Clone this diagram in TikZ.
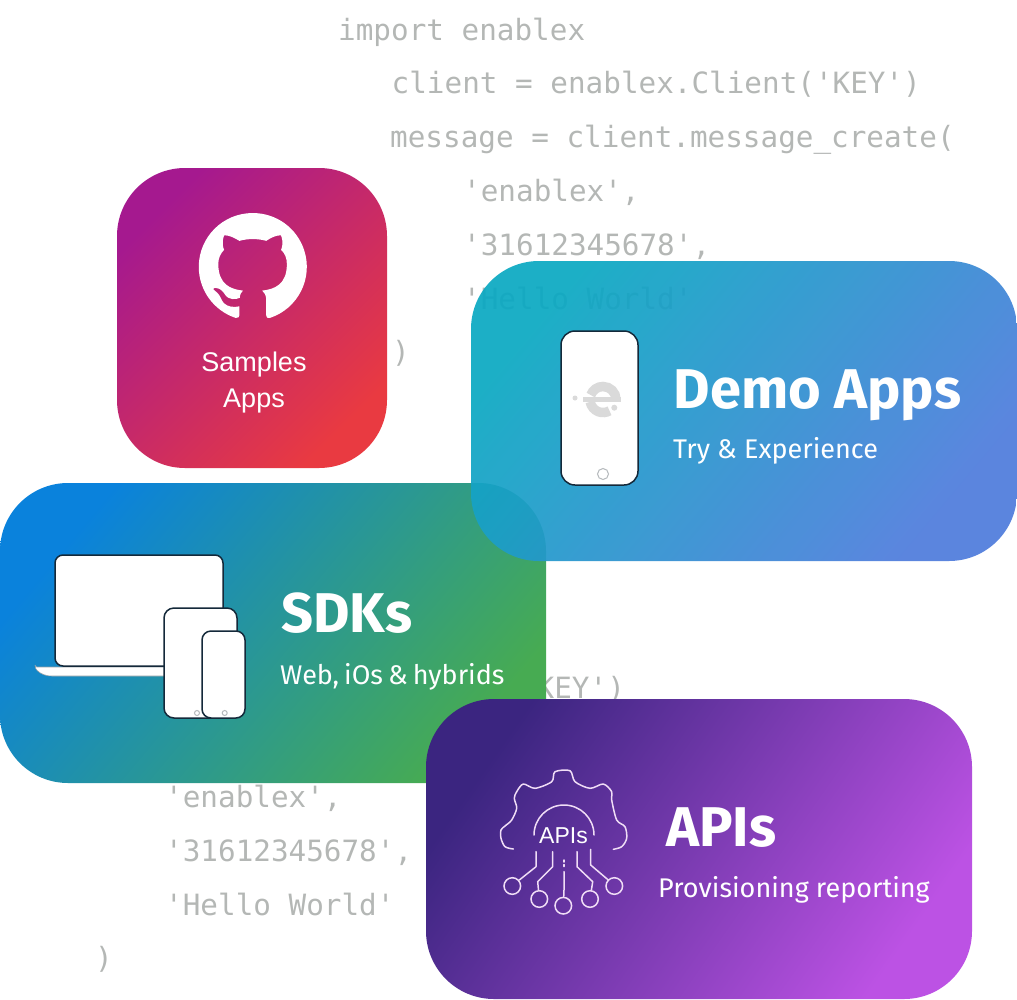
\documentclass[tikz,border=0pt]{standalone}
\usepackage{fontspec}
\usetikzlibrary{svg.path}
\setmainfont{Fira Sans}
\newfontfamily\codefont[Ligatures=NoCommon]{DejaVu Sans Mono}
\newfontfamily\labelfont{Liberation Sans}
\definecolor{codegray}{HTML}{B4B7B5}
\definecolor{outlinedark}{HTML}{14293A}
\definecolor{buttongray}{HTML}{B5B9BC}
\definecolor{logogray}{HTML}{DADADA}
\definecolor{circuitline}{HTML}{F0DDF6}
\definecolor{cardredA}{HTML}{A5198F}
\definecolor{cardredB}{HTML}{E93A41}
\definecolor{cardgreenA}{HTML}{0A82DC}
\definecolor{cardgreenB}{HTML}{47AB52}
\definecolor{cardblueA}{HTML}{0BA9C2}
\definecolor{cardblueB}{HTML}{4F7CDC}
\definecolor{cardpurpleA}{HTML}{3B2580}
\definecolor{cardpurpleB}{HTML}{BC52E4}
\begin{document}
\begin{tikzpicture}[x=1pt,y=-1pt,line cap=round,
    card/.style={inner sep=0pt,minimum height=300pt,rounded corners=68pt},
    codeline/.style={anchor=base west,inner sep=0pt,text=codegray,font=\codefont\fontsize{29.3}{30}\selectfont},
    cardtitle/.style={anchor=base west,inner sep=0pt,text=white,font=\bfseries\fontsize{56}{60}\selectfont},
    cardtext/.style={anchor=base west,inner sep=0pt,text=white,font=\fontsize{27}{30}\selectfont},
    applabel/.style={anchor=base,inner sep=0pt,text=white,font=\labelfont\fontsize{27}{30}\selectfont},
    device/.style={draw=outlinedark,fill=white,line width=1.5pt},
    homebutton/.style={draw=buttongray,line width=1pt},
    logopart/.style={draw=logogray,line width=9.5pt,line cap=butt},
    circuit/.style={draw=circuitline,line width=1.5pt,line join=round},
    pin/.style={circle,draw=circuitline,line width=1.5pt,inner sep=0pt,minimum size=16.6pt}]
    \useasboundingbox (0,0) rectangle (1017,999);
    \foreach \cx/\cy/\ctext [count=\ci] in {338/40/{import enablex},
        391.5/93/{client = enablex.Client('KEY')},
        390/147/{message = client.message\_create(},
        463/201/{'enablex',},
        463/255/{'31612345678',},
        463/309/{'Hello World'},
        392/362/{)},
        536.5/698/{KEY')},
        165/807/{'enablex',},
        165/861/{'31612345678',},
        165/915/{'Hello World'},
        95/968/{)}}{
        \node[codeline] (code\ci) at (\cx,\cy) {\ctext};
    }
    \node[card,minimum width=270pt,top color=cardredA,bottom color=cardredB,shading angle=45] (samples) at (252,318) {};
    \node[card,minimum width=546pt,top color=cardgreenA,bottom color=cardgreenB,shading angle=50] (sdks) at (273,633) {};
    \node[card,minimum width=546pt,top color=cardblueA,bottom color=cardblueB,shading angle=50,fill opacity=0.93] (demo) at (744,411) {};
    \node[card,minimum width=546pt,top color=cardpurpleA,bottom color=cardpurpleB,shading angle=55] (apis) at (699,849) {};
    \fill[white,shift={(199,211.7)},scale=4.483,yscale=-1] svg {M12 .3 a12 12 0 0 0 -3.8 23.4 c.6 .1 .8 -.3 .8 -.6 v-2 c-3.3 .7 -4 -1.6 -4 -1.6 c-.6 -1.4 -1.4 -1.8 -1.4 -1.8 c-1 -.7 .1 -.7 .1 -.7 c1.2 0 1.9 1.2 1.9 1.2 c1 1.8 2.8 1.3 3.5 1 c0 -.8 .4 -1.3 .7 -1.6 c-2.7 -.3 -5.5 -1.3 -5.5 -6 c0 -1.2 .5 -2.3 1.3 -3.1 c-.2 -.4 -.6 -1.6 0 -3.2 c0 0 1 -.3 3.4 1.2 a11.5 11.5 0 0 1 6 0 c2.3 -1.5 3.3 -1.2 3.3 -1.2 c.6 1.6 .2 2.8 0 3.2 c.9 .8 1.3 1.9 1.3 3.2 c0 4.6 -2.8 5.6 -5.5 5.9 c.5 .4 .9 1 .9 2.2 v3.3 c0 .3 .1 .7 .8 .6 A12 12 0 0 0 12 .3 Z};
    \node[applabel] (samplesline) at (254,371.5) {Samples};
    \node[applabel] (appsline) at (254,407) {Apps};
    \draw[device,rounded corners=14pt] (561,331) rectangle (638,485);
    \draw[homebutton] (603,474) circle (5.5pt);
    \draw[logopart] (616,399.5) arc (0:160:13pt);
    \draw[logopart] (590.2,401.8) arc (190:300:13pt);
    \draw[draw=logogray,line width=5pt,line cap=butt] (583,399.5) -- (621,399.5);
    \fill[logogray] (575,398) circle (2.5pt) (614.3,407.7) circle (3pt);
    \node[cardtitle] (demotitle) at (673.5,408) {Demo Apps};
    \node[cardtext] (demotext) at (673,458) {Try \& Experience};
    \draw[device,rounded corners=2pt,draw=outlinedark!45,line width=0.6pt] (35,667) -- (170,667) -- (170,676) -- (50,676) .. controls (42,675) and (37,671) .. (35,667) -- cycle;
    \draw[device,rounded corners=8pt] (55,555) rectangle (223,666);
    \draw[device,rounded corners=10pt] (164,608) rectangle (237,718);
    \draw[homebutton] (197,713) circle (2.5pt);
    \draw[device,rounded corners=9pt] (202,631) rectangle (245,718);
    \draw[homebutton] (224.7,713) circle (2.5pt);
    \node[cardtitle] (sdkstitle) at (281,632) {SDKs};
    \node[cardtext] (sdkstext) at (280,684) {\spaceskip=5pt\relax Web, iOs \& hybrids};
    \draw[circuit] plot[smooth,tension=0.5] coordinates {(513.3,849) (505,846.7) (501,838.3) (501,830) (505,826) (511.7,820) (516.7,808.3) (514.3,798.3) (516.7,791.7) (523.3,784) (535,788.3) (551.7,781.7) (555,771.7) (570,770.7) (575,781.7) (590,788.3) (603.3,784) (611.7,791.7) (611.7,800) (616.7,820) (625,826.7) (626.7,838.3) (621.7,846.7) (613.3,849.3)};
    \draw[circuit] (534,835) arc (180:0:30pt);
    \node[inner sep=0pt,anchor=base,text=white,font=\labelfont\fontsize{23}{25}\selectfont] (gearlabel) at (563.5,843) {APIs};
    \foreach \px/\py/\ax/\ay/\bx/\by/\ex/\ey [count=\pi] in {512.3/886/536/851.7/536/866.7/519.3/880,
        539.3/899/552.7/851.7/552.7/866.7/537.7/881.7,
        563.3/905.7/564/871.7/564/880/564/890,
        590/899/577/851.7/577/866.7/592.7/881.7,
        614.3/886/590.7/849.3/590.7/865/608.3/880}{
        \node[pin] (pin\pi) at (\px,\py) {};
        \coordinate (lead\pi) at (\ax,\ay);
        \draw[circuit] (lead\pi) -- (\bx,\by) -- (\ex,\ey) -- (pin\pi);
    }
    \coordinate (tickTop) at (564,860);
    \coordinate (tickEnd) at (564,868);
    \draw[circuit,dash pattern=on 2pt off 2.5pt] (tickTop) -- (tickEnd);
    \node[cardtitle] (apistitle) at (666,846) {APIs};
    \node[cardtext] (apistext) at (658,897) {Provisioning reporting};
\end{tikzpicture}
\end{document}
